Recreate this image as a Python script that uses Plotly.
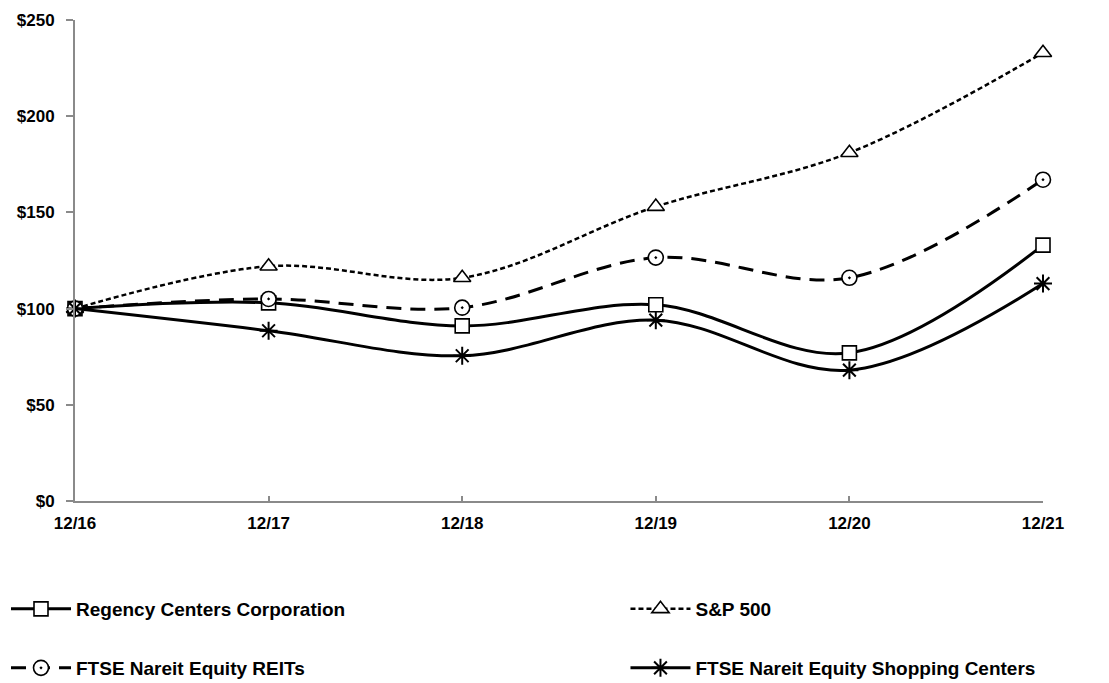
import plotly.graph_objects as go

categories = ["12/16", "12/17", "12/18", "12/19", "12/20", "12/21"]
regency = [100, 103, 91, 102, 77, 133]
sp500 = [100, 122, 116, 153, 181, 233]
reits = [100, 105, 100.5, 126.5, 116, 167]
shopping = [100, 88.5, 75.5, 94, 68, 113]

y_ticks = [0, 50, 100, 150, 200, 250]
y_tick_labels = ["$" + str(v) for v in y_ticks]

FONT = "Liberation Sans, Arial, sans-serif"
xs = list(range(len(categories)))

series = [
    ("Regency Centers Corporation", regency, dict(width=3, dash="solid"),
     dict(symbol="square", size=14, color="white", line=dict(color="black", width=1.6)), "legend"),
    ("S&P 500", sp500, dict(width=2.5, dash="5px,3px"),
     dict(symbol="triangle-up", size=15, color="white", line=dict(color="black", width=1.6)), "legend2"),
    ("FTSE Nareit Equity REITs", reits, dict(width=3, dash="15px,9px"),
     dict(symbol="circle-dot", size=15, color="white", line=dict(color="black", width=1.6)), "legend3"),
    ("FTSE Nareit Equity Shopping Centers", shopping, dict(width=3, dash="solid"),
     dict(symbol="asterisk-open", size=15, color="black", line=dict(color="black", width=2)), "legend4"),
]

fig = go.Figure()
for name, vals, line, marker, leg in series:
    fig.add_trace(go.Scatter(
        x=xs, y=vals, name=name, mode="lines+markers",
        line=dict(color="black", shape="spline", smoothing=1.0, **line),
        marker=marker, cliponaxis=False, legend=leg,
    ))

legfont = dict(family=FONT, size=19, color="black", weight="bold")
def leg(x, y):
    return dict(x=x, y=y, xref="container", yref="container", xanchor="left", yanchor="middle",
                font=legfont, bgcolor="rgba(0,0,0,0)", itemwidth=60)

fig.update_layout(
    width=1109, height=683,
    margin=dict(l=75, r=66, t=20, b=182, autoexpand=False),
    paper_bgcolor="white", plot_bgcolor="white",
    showlegend=True,
    legend=leg(6 / 1109, 1 - 609 / 683),
    legend2=leg(0.564, 1 - 609 / 683),
    legend3=leg(6 / 1109, 1 - 668 / 683),
    legend4=leg(0.564, 1 - 668 / 683),
    xaxis=dict(
        range=[0, 5], tickvals=xs, ticktext=categories,
        showgrid=False, zeroline=False,
        showline=True, linecolor="#8a8a8a", linewidth=2,
        ticks="inside", ticklen=5, tickcolor="#8a8a8a", tickwidth=2,
        tickfont=dict(family=FONT, size=17, color="black", weight="bold"),
        tickangle=0, ticklabelstandoff=6,
    ),
    yaxis=dict(
        range=[0, 250], tickvals=y_ticks, ticktext=y_tick_labels,
        showgrid=False, zeroline=False,
        showline=True, linecolor="#8a8a8a", linewidth=2,
        ticks="outside", ticklen=7, tickcolor="#8a8a8a", tickwidth=2,
        tickfont=dict(family=FONT, size=17, color="black", weight="bold"),
        ticklabelstandoff=8,
    ),
)

fig.write_html("out.html")
